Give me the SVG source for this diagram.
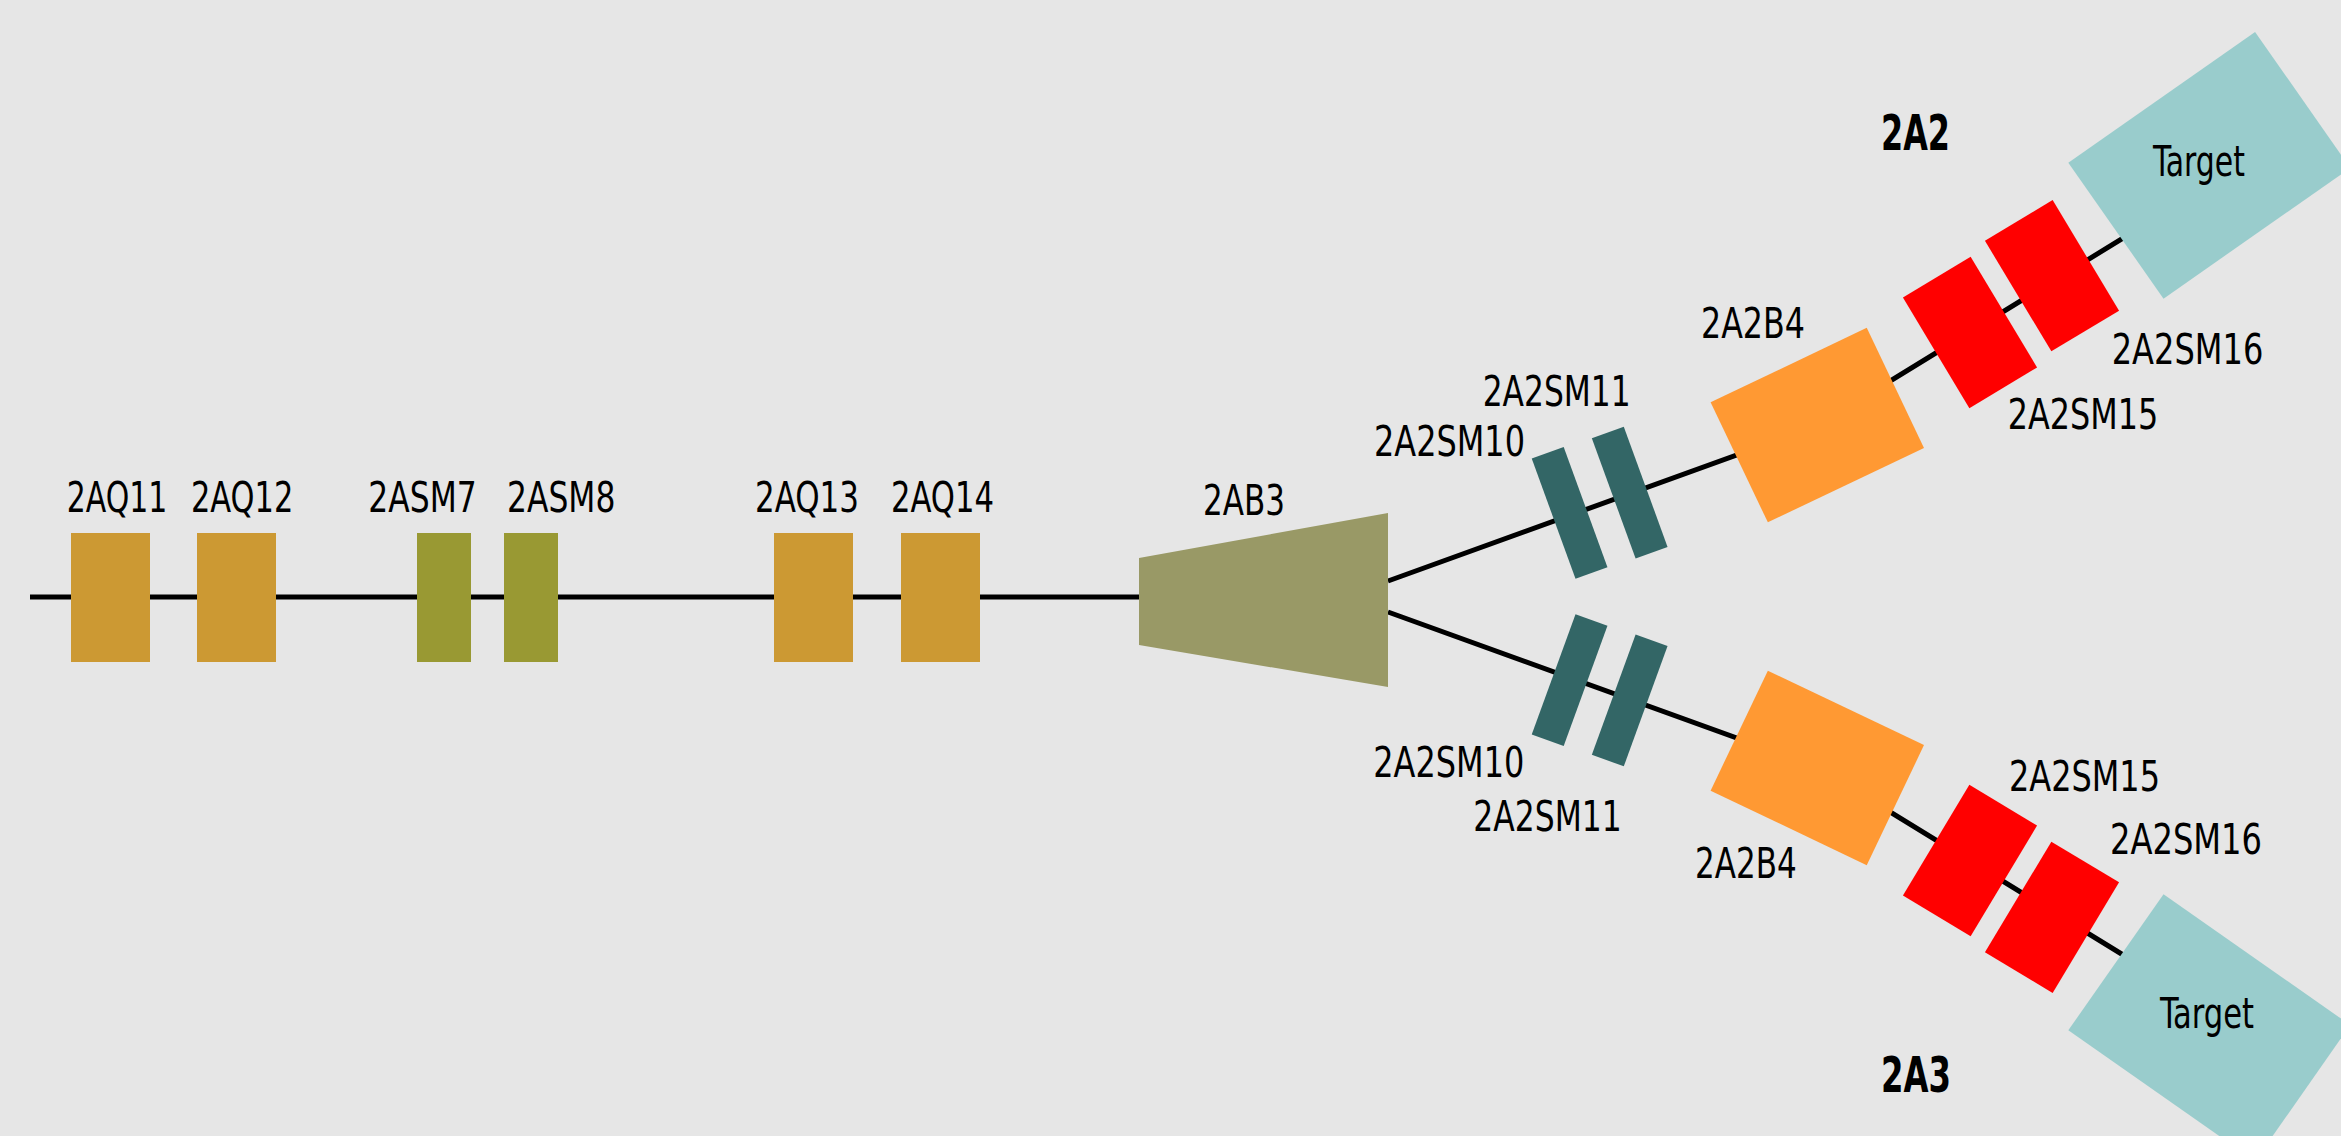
<svg xmlns="http://www.w3.org/2000/svg" width="2341" height="1136" viewBox="0 0 2341 1136">
<style>
.lbl{font-family:"Liberation Sans Narrow","Arial Narrow","DejaVu Sans Condensed","Liberation Sans",sans-serif;font-size:42px;fill:#000}
.ttl{font-family:"Liberation Sans Narrow","Arial Narrow","DejaVu Sans Condensed","Liberation Sans",sans-serif;font-size:50px;font-weight:bold;fill:#000}
.conn{fill:none;stroke:#000;stroke-width:5}
.aq{fill:#cc9933}
.asm{fill:#999933}
.ab{fill:#999966}
.sm{fill:#336666}
.b4{fill:#ff9933}
.red{fill:#ff0000}
.tgt{fill:#99cccc}
</style>
<rect x="0" y="0" width="2341" height="1136" fill="#e6e6e6"/>
<g id="connectors">
<path class="conn" d="M30 597 H1140"/>
<path class="conn" d="M1388 581 L1817 426 L2190 197"/>
<path class="conn" d="M1388 612 L1817 767 L2190 996"/>
</g>
<g id="n-2AQ11"><rect class="aq" x="71" y="533" width="79" height="129"/><text class="lbl" x="66.7" y="512" textLength="100.6" lengthAdjust="spacingAndGlyphs">2AQ11</text></g>
<g id="n-2AQ12"><rect class="aq" x="197" y="533" width="79" height="129"/><text class="lbl" x="191" y="512" textLength="102.3" lengthAdjust="spacingAndGlyphs">2AQ12</text></g>
<g id="n-2ASM7"><rect class="asm" x="417" y="533" width="54" height="129"/><text class="lbl" x="368.3" y="512" textLength="108.4" lengthAdjust="spacingAndGlyphs">2ASM7</text></g>
<g id="n-2ASM8"><rect class="asm" x="504" y="533" width="54" height="129"/><text class="lbl" x="507" y="512" textLength="108.4" lengthAdjust="spacingAndGlyphs">2ASM8</text></g>
<g id="n-2AQ13"><rect class="aq" x="774" y="533" width="79" height="129"/><text class="lbl" x="755" y="512" textLength="104" lengthAdjust="spacingAndGlyphs">2AQ13</text></g>
<g id="n-2AQ14"><rect class="aq" x="901" y="533" width="79" height="129"/><text class="lbl" x="891" y="512" textLength="103" lengthAdjust="spacingAndGlyphs">2AQ14</text></g>
<g id="n-2AB3"><polygon class="ab" points="1139,558 1388,513 1388,687 1139,645"/><text class="lbl" x="1203" y="515" textLength="82" lengthAdjust="spacingAndGlyphs">2AB3</text></g>
<g id="n-2A2SM10-up"><rect class="sm" x="-17" y="-64" width="34" height="128" transform="translate(1569.6,512.9) rotate(-20)"/><text class="lbl" x="1374" y="456" textLength="151" lengthAdjust="spacingAndGlyphs">2A2SM10</text></g>
<g id="n-2A2SM11-up"><rect class="sm" x="-17" y="-64" width="34" height="128" transform="translate(1629.7,492.6) rotate(-20)"/><text class="lbl" x="1482.7" y="406" textLength="148" lengthAdjust="spacingAndGlyphs">2A2SM11</text></g>
<g id="n-2A2B4-up"><rect class="b4" x="-86.5" y="-66.5" width="173" height="133" transform="translate(1817.3,425.1) rotate(-25.5)"/><text class="lbl" x="1701" y="338" textLength="104" lengthAdjust="spacingAndGlyphs">2A2B4</text></g>
<g id="n-2A2SM15-up"><rect class="red" x="-39.5" y="-64.5" width="79" height="129" transform="translate(1970,332.5) rotate(-31)"/><text class="lbl" x="2007.7" y="429" textLength="150.6" lengthAdjust="spacingAndGlyphs">2A2SM15</text></g>
<g id="n-2A2SM16-up"><rect class="red" x="-39.5" y="-64.5" width="79" height="129" transform="translate(2052,275.7) rotate(-31)"/><text class="lbl" x="2111.7" y="364" textLength="151.6" lengthAdjust="spacingAndGlyphs">2A2SM16</text></g>
<g id="n-target-up"><rect class="tgt" x="-114" y="-83" width="228" height="166" transform="translate(2209.3,165.3) rotate(-35)"/><text class="lbl" x="2153" y="176" textLength="92" lengthAdjust="spacingAndGlyphs">Target</text></g>
<g id="n-2A2-title"><text class="ttl" x="1881" y="150" textLength="69" lengthAdjust="spacingAndGlyphs">2A2</text></g>
<g id="n-2A2SM10-low"><rect class="sm" x="-17" y="-64" width="34" height="128" transform="translate(1569.6,680.1) rotate(20)"/><text class="lbl" x="1373.3" y="777" textLength="151" lengthAdjust="spacingAndGlyphs">2A2SM10</text></g>
<g id="n-2A2SM11-low"><rect class="sm" x="-17" y="-64" width="34" height="128" transform="translate(1629.7,700.4) rotate(20)"/><text class="lbl" x="1473.3" y="831" textLength="148.4" lengthAdjust="spacingAndGlyphs">2A2SM11</text></g>
<g id="n-2A2B4-low"><rect class="b4" x="-86.5" y="-66.5" width="173" height="133" transform="translate(1817.3,767.9) rotate(25.5)"/><text class="lbl" x="1695" y="878" textLength="101.7" lengthAdjust="spacingAndGlyphs">2A2B4</text></g>
<g id="n-2A2SM15-low"><rect class="red" x="-39.5" y="-64.5" width="79" height="129" transform="translate(1970,860.5) rotate(31)"/><text class="lbl" x="2009" y="791" textLength="151" lengthAdjust="spacingAndGlyphs">2A2SM15</text></g>
<g id="n-2A2SM16-low"><rect class="red" x="-39.5" y="-64.5" width="79" height="129" transform="translate(2052,917.3) rotate(31)"/><text class="lbl" x="2110" y="854" textLength="152" lengthAdjust="spacingAndGlyphs">2A2SM16</text></g>
<g id="n-target-low"><rect class="tgt" x="-114" y="-83" width="228" height="166" transform="translate(2209.3,1027.7) rotate(35)"/><text class="lbl" x="2160" y="1028" textLength="94" lengthAdjust="spacingAndGlyphs">Target</text></g>
<g id="n-2A3-title"><text class="ttl" x="1881" y="1092" textLength="70" lengthAdjust="spacingAndGlyphs">2A3</text></g>
</svg>
